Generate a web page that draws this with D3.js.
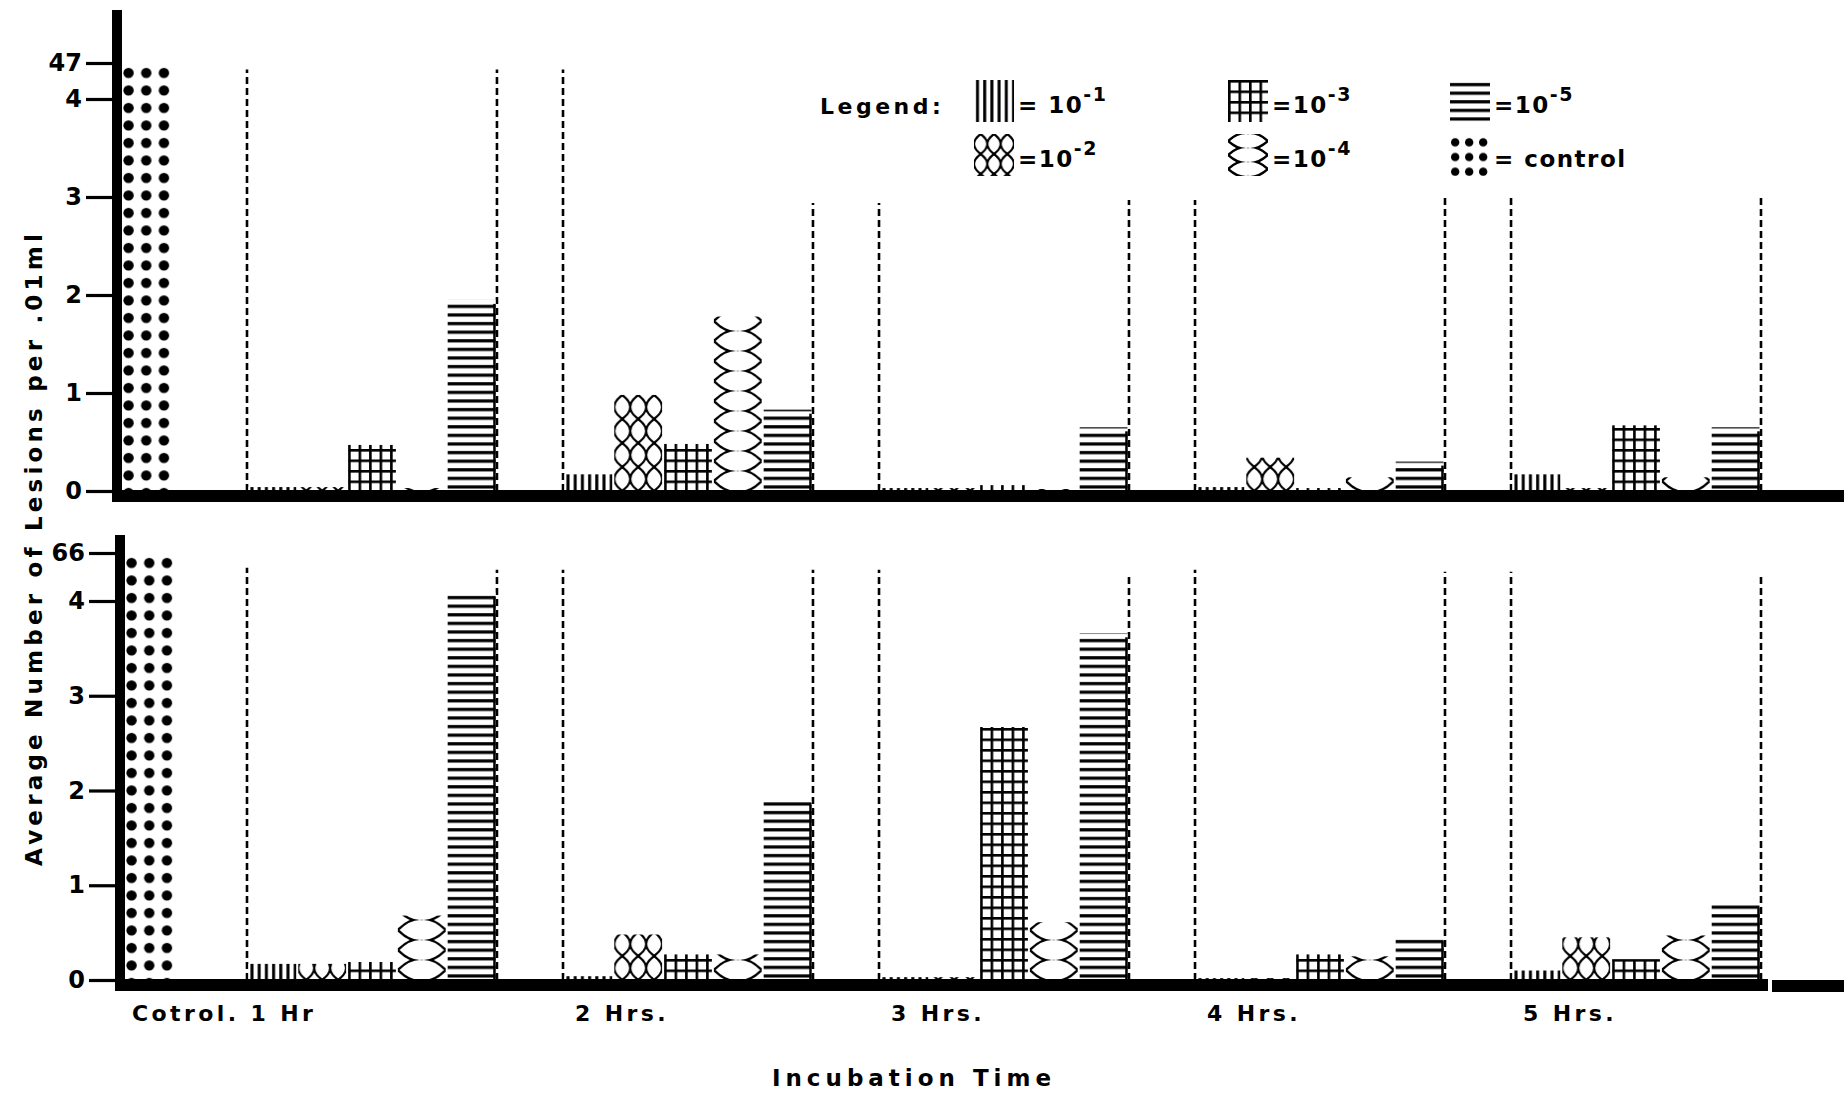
<!DOCTYPE html>
<html>
<head>
<meta charset="utf-8">
<script src="https://cdn.jsdelivr.net/npm/d3@7"></script>
<style>
body { margin: 0; background: #fff; }
text { font-family: "DejaVu Sans", sans-serif; font-weight: bold; fill: #000; }
</style>
</head>
<body>
<svg id="chart"></svg>
<script>
// chart data
const times = ["1 Hr", "2 Hrs.", "3 Hrs.", "4 Hrs.", "5 Hrs."]
const dilutions = ["10^-1", "10^-2", "10^-3", "10^-4", "10^-5"]
const xLabels = ["Cotrol. 1 Hr", "2 Hrs.", "3 Hrs.", "4 Hrs.", "5 Hrs."]

// upper panel, one row per incubation time, one column per dilution
const topValues = [
    [0.04, 0.04, 0.47, 0.03, 1.95],
    [0.17, 0.98, 0.48, 1.78, 0.83],
    [0.03, 0.03, 0.06, 0.02, 0.65],
    [0.04, 0.34, 0.03, 0.14, 0.30],
    [0.17, 0.03, 0.67, 0.14, 0.65]
]
// lower panel
const bottomValues = [
    [0.17, 0.17, 0.19, 0.68, 4.09],
    [0.04, 0.48, 0.27, 0.27, 1.89],
    [0.03, 0.03, 2.67, 0.61, 3.66],
    [0.02, 0.02, 0.27, 0.25, 0.45],
    [0.10, 0.45, 0.22, 0.47, 0.80]
]
const topControl = 47
const bottomControl = 66
const topTicks = [0, 1, 2, 3, 4, 47]
const bottomTicks = [0, 1, 2, 3, 4, 66]

// heights of the dashed brackets around each time group (left side, right side)
const topBracketL = [4.3, 4.3, 2.94, 2.97, 3.03]
const topBracketR = [4.3, 2.94, 2.97, 3.03, 3.03]
const bottomBracketL = [4.35, 4.33, 4.33, 4.33, 4.31]
const bottomBracketR = [4.33, 4.33, 4.27, 4.31, 4.29]

const legendKeys = ["10^-1", "10^-2", "10^-3", "10^-4", "10^-5", "control"]
const legendText = ["= 10", "=10", "=10", "=10", "=10", "= control"]
const legendSup = ["-1", "-2", "-3", "-4", "-5", ""]

// layout
const width = 1844
const height = 1094
const svg = d3.select("#chart").attr("width", width).attr("height", height)

const x = d3.scaleBand().domain(times).range([247, 1761]).paddingInner(0.209)
const inner = d3.scaleBand().domain(dilutions).range([0, x.bandwidth()])
    .paddingInner(0.04).paddingOuter(0.03)
const bw = inner.bandwidth()

// patterns
const defs = svg.append("defs")
function pattern(id, w, h){
    const p = defs.append("pattern").attr("id", id)
        .attr("patternUnits", "userSpaceOnUse").attr("width", w).attr("height", h)
    p.append("rect").attr("width", w).attr("height", h).attr("fill", "#fff")
    return p
}
function lens_v(id, w, h){
    pattern(id, w, h).append("path")
        .attr("d", `M${w/2},0 Q${-w/2},${h/2} ${w/2},${h} M${w/2},0 Q${w*1.5},${h/2} ${w/2},${h}`)
        .attr("fill", "none").attr("stroke", "#000").attr("stroke-width", 2.2)
}
function lens_h(id, w, h){
    pattern(id, w, h).append("path")
        .attr("d", `M0,${h/2} Q${w/4},-2 ${w/2},-1 Q${w*0.75},-2 ${w},${h/2} ` +
                   `M0,${h/2} Q${w/4},${h+2} ${w/2},${h+1} Q${w*0.75},${h+2} ${w},${h/2}`)
        .attr("fill", "none").attr("stroke", "#000").attr("stroke-width", 2.4)
}
function dots(id, w, h, r){
    pattern(id, w, h).append("circle").attr("cx", w * 0.37).attr("cy", h * 0.57)
        .attr("r", r).attr("fill", "#000")
}

// 10^-1 vertical lines
pattern("p1", 7.2, 8).append("rect").attr("x", 2).attr("width", 3).attr("height", 8).attr("fill", "#000")
// 10^-2 vertical chains of lenses
lens_v("p2", bw / 3, 24)
lens_v("p2L", 40 / 3, 20)
// 10^-3 grid
const p3 = pattern("p3", 10.5, 10.5)
p3.append("rect").attr("width", 2.6).attr("height", 10.5).attr("fill", "#000")
p3.append("rect").attr("width", 10.5).attr("height", 2.6).attr("fill", "#000")
// 10^-4 stacked horizontal lenses
lens_h("p4", bw, 20)
lens_h("p4L", 40, 14)
// 10^-5 horizontal lines
pattern("p5", 10, 8.6).append("rect").attr("y", 3).attr("width", 10).attr("height", 3.2).attr("fill", "#000")
// control dots
dots("pc", 17.7, 17.5, 5.2)
dots("pcL", 14, 14.7, 4.2)

const barPat = {"10^-1": "p1", "10^-2": "p2", "10^-3": "p3", "10^-4": "p4", "10^-5": "p5"}
const legPat = {"10^-1": "p1", "10^-2": "p2L", "10^-3": "p3", "10^-4": "p4L", "10^-5": "p5", "control": "pcL"}

const panels = [
    {values: topValues, control: topControl, ticks: topTicks, bl: topBracketL, br: topBracketR,
     y0: 491, unit: 98, breakAt: 4.3, yTop: 63, axisX: 117, axisTop: 10, gap: null},
    {values: bottomValues, control: bottomControl, ticks: bottomTicks, bl: bottomBracketL, br: bottomBracketR,
     y0: 980, unit: 94.75, breakAt: 4.4, yTop: 553, axisX: 120, axisTop: 535, gap: 1768}
]

function draw_panel(cfg){
    // broken axis: linear up to breakAt, then squeezed up to the control value
    const y = d3.scaleLinear()
        .domain([0, cfg.breakAt, cfg.control])
        .range([cfg.y0, cfg.y0 - cfg.breakAt * cfg.unit, cfg.yTop])

    // dashed brackets
    times.forEach((t, i) => {
        [[x(t), cfg.bl[i]], [x(t) + x.bandwidth(), cfg.br[i]]].forEach(([xx, v]) => {
            svg.append("line")
                .attr("x1", xx).attr("x2", xx)
                .attr("y1", y(0)).attr("y2", y(v))
                .attr("stroke", "#000").attr("stroke-width", 2.6)
                .attr("stroke-dasharray", "7,4")
        })
    })

    // pattern bars
    times.forEach((t, i) => {
        const grp = svg.selectAll(null).data(dilutions).enter().append("g")
            .attr("transform", d => `translate(${x(t) + inner(d)},${cfg.y0})`)
        grp.append("rect")
            .attr("x", 0)
            .attr("y", (d, j) => y(cfg.values[i][j]) - cfg.y0)
            .attr("width", bw)
            .attr("height", (d, j) => cfg.y0 - y(cfg.values[i][j]))
            .attr("fill", d => `url(#${barPat[d]})`)
        // the 10^-5 hatching is closed on its right side
        grp.filter(d => d === "10^-5").append("line")
            .attr("x1", bw - 1).attr("x2", bw - 1)
            .attr("y1", 0).attr("y2", y(cfg.values[i][4]) - cfg.y0 + 4)
            .attr("stroke", "#000").attr("stroke-width", 2.5)
    })

    // control bar
    const cx = d3.scaleBand().domain(["control"]).range([cfg.axisX + 5, cfg.axisX + 55])
    svg.append("g").attr("transform", `translate(${cx("control")},${y(cfg.control)})`)
        .append("rect")
        .attr("width", cx.bandwidth())
        .attr("height", y(0) - y(cfg.control))
        .attr("fill", "url(#pc)")

    // thick y axis line and baseline
    svg.append("rect").attr("x", cfg.axisX - 5).attr("y", cfg.axisTop)
        .attr("width", 10).attr("height", cfg.y0 + 11 - cfg.axisTop).attr("fill", "#000")
    if (cfg.gap){
        svg.append("rect").attr("x", cfg.axisX - 5).attr("y", cfg.y0 - 1)
            .attr("width", cfg.gap - cfg.axisX + 5).attr("height", 12).attr("fill", "#000")
        svg.append("rect").attr("x", cfg.gap + 4).attr("y", cfg.y0)
            .attr("width", width - cfg.gap - 4).attr("height", 12).attr("fill", "#000")
    } else {
        svg.append("rect").attr("x", cfg.axisX - 5).attr("y", cfg.y0 - 1)
            .attr("width", width - cfg.axisX + 5).attr("height", 12).attr("fill", "#000")
    }

    // ticks
    const axis = d3.axisLeft(y).tickValues(cfg.ticks).tickSize(26).tickPadding(4)
        .tickFormat(d3.format("d"))
    const g = svg.append("g").attr("transform", `translate(${cfg.axisX - 5},0)`).call(axis)
    g.select(".domain").remove()
    g.selectAll(".tick line").attr("stroke", "#000").attr("stroke-width", 3.2)
    g.selectAll(".tick text").attr("font-size", 24).attr("font-family", null)
        .style("font-weight", "bold").attr("fill", "#000")
}

panels.forEach(draw_panel)

// x labels
svg.selectAll(null).data(xLabels).enter().append("text")
    .attr("x", (d, i) => i === 0 ? 132 : x(times[i]) + 12)
    .attr("y", 1021)
    .attr("font-size", 22)
    .attr("letter-spacing", 3.4)
    .text(d => d)

// axis titles
svg.append("text")
    .attr("transform", "translate(42,548) rotate(-90)")
    .attr("text-anchor", "middle")
    .attr("font-size", 23)
    .attr("letter-spacing", 4.2)
    .text("Average Number of Lesions per .01ml")

svg.append("text")
    .attr("x", 914).attr("y", 1086)
    .attr("text-anchor", "middle")
    .attr("font-size", 23)
    .attr("letter-spacing", 5)
    .text("Incubation Time")

// legend
svg.append("text").attr("x", 820).attr("y", 114)
    .attr("font-size", 22).attr("letter-spacing", 3.5).text("Legend:")

const legCols = [974, 1228, 1450]
const legRows = [80, 134]
legendKeys.forEach((k, i) => {
    const lx = legCols[Math.floor(i / 2)]
    const ly = legRows[i % 2]
    svg.append("g").attr("transform", `translate(${lx},${ly})`)
        .append("rect").attr("width", 40).attr("height", 42)
        .attr("fill", `url(#${legPat[k]})`)
    const t = svg.append("text").attr("x", lx + 44).attr("y", ly + 33)
        .attr("font-size", 23).attr("letter-spacing", 1.5)
    t.append("tspan").text(legendText[i])
    if (legendSup[i]) t.append("tspan").attr("dy", -12).attr("font-size", 19).text(legendSup[i])
})
</script>
</body>
</html>
